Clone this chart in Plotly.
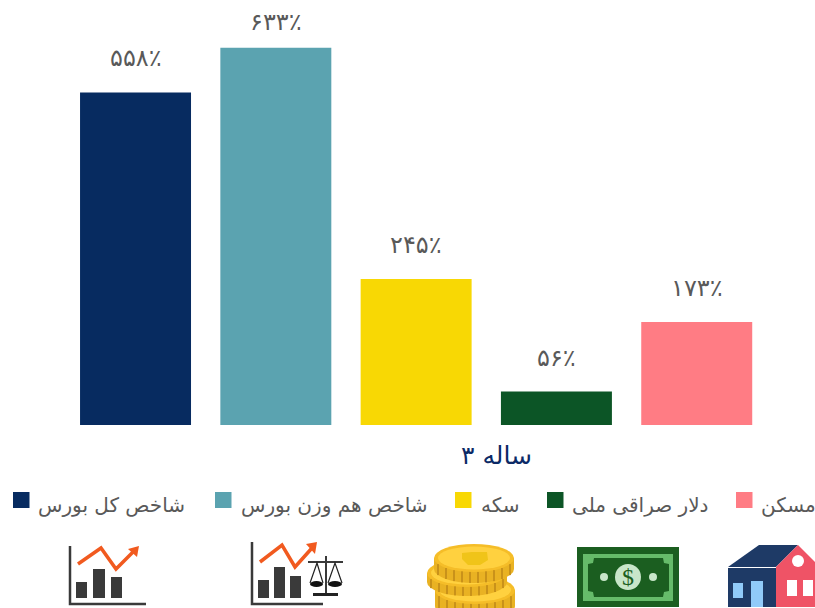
import math
import plotly.graph_objects as go

categories = ["شاخص کل بورس", "شاخص هم وزن بورس", "سکه", "دلار صراقی ملی", "مسکن"]
values = [558, 633, 245, 56, 173]
labels = ["۵۵۸٪", "۶۳۳٪", "۲۴۵٪", "۵۶٪", "۱۷۳٪"]
colors = ["#072B60", "#5BA3B0", "#F8D804", "#0C5526", "#FF7C84"]
tick_label = "۳ ساله"

W, H = 815, 608
BASE = 425          # pixel y of the baseline
SCALE = 0.596       # px per percent
FONT = "DejaVu Sans"
GRAY = "#595959"
LEGEND_SWATCH_X = [13, 215, 455, 547, 736]
LEGEND_TEXT_X = [37, 240, 480, 571, 760]

def px(x):
    return x / W
def py(y):
    return (BASE - y) / BASE

def poly(points, color):
    d = "M" + " L".join(f"{px(a):.5f},{py(b):.5f}" for a, b in points) + " Z"
    return dict(type="path", path=d, xref="paper", yref="paper", fillcolor=color,
                line=dict(width=0), layer="above")

def line(points, color, width):
    d = "M" + " L".join(f"{px(a):.5f},{py(b):.5f}" for a, b in points)
    return dict(type="path", path=d, xref="paper", yref="paper", fillcolor="rgba(0,0,0,0)",
                line=dict(color=color, width=width), layer="above")

def rect(x0, y0, x1, y1, color):
    return dict(type="rect", xref="paper", yref="paper", x0=px(x0), x1=px(x1), y0=py(y0), y1=py(y1),
                fillcolor=color, line=dict(width=0), layer="above")

def oval(cx, cy, rx, ry, color):
    return dict(type="circle", xref="paper", yref="paper", x0=px(cx - rx), x1=px(cx + rx),
                y0=py(cy + ry), y1=py(cy - ry), fillcolor=color, line=dict(width=0), layer="above")

DARK = "#3A3A3A"
ORANGE = "#F15A1F"
shapes = []

# legend swatches
for a, col in zip(LEGEND_SWATCH_X, colors):
    shapes.append(rect(a, 492, a + 16.5, 508, col))

# chart icon 1
shapes += [line([(70, 546), (70, 604), (146, 604)], DARK, 2.5)]
shapes += [rect(76, 582, 87, 598, DARK), rect(93, 569, 105, 598, DARK), rect(111, 577, 122, 598, DARK)]
shapes += [line([(78, 564), (101, 548), (116, 569), (133, 552)], ORANGE, 3.5),
           poly([(128, 549), (139, 546), (137, 557)], ORANGE)]

# chart + scale icon
shapes += [line([(252, 542), (252, 604), (323, 604)], DARK, 2.5)]
shapes += [rect(258, 580, 269, 598, DARK), rect(274, 567, 285, 598, DARK), rect(290, 576, 301, 598, DARK)]
shapes += [line([(260, 562), (282, 545), (295, 567), (312, 548)], ORANGE, 3.5),
           poly([(306, 544), (317, 542), (315, 554)], ORANGE)]
shapes += [line([(326, 556), (326, 593)], DARK, 2), line([(308, 562), (343, 562)], DARK, 2),
           rect(313, 593, 338, 596, "#222222"),
           line([(310, 583), (317, 563), (323, 583)], "#222222", 1.2),
           line([(328, 583), (335, 563), (342, 583)], "#222222", 1.2),
           oval(316.5, 584, 6.5, 3, "#111111"), oval(335, 584, 7, 3, "#111111")]

# coins
RIM = "#E9B223"
STRIPE = "#C9921A"
TOP = "#FFD13F"
for cx, cy, depth in [(475, 590, 16), (467, 573, 9), (474, 558, 11)]:
    shapes += [oval(cx, cy + depth, 40, 14, RIM), rect(cx - 40, cy, cx + 40, cy + depth, RIM),
               oval(cx, cy, 40, 14, "#F5BD28")]
    for dx in range(-36, 37, 8):
        yy = cy + 14 * math.sqrt(1 - (dx / 40) ** 2)
        shapes.append(line([(cx + dx, yy), (cx + dx, yy + depth)], STRIPE, 2))
    shapes.append(oval(cx, cy, 36, 11.5, TOP))
shapes += [poly([(462, 553), (472, 552), (487, 552), (488, 560), (480, 565), (468, 565), (462, 559)], "#F0C419")]

# banknote
shapes += [rect(577, 547, 679, 607, "#1B5E20"), rect(583, 554, 673, 601, "#66BB6A"),
           poly([(594, 558), (663, 558), (664, 563), (669, 564), (669, 591), (664, 592), (663, 597),
                 (594, 597), (593, 592), (588, 591), (588, 564), (593, 563)], "#1B5E20"),
           oval(628, 577, 13, 13, "#C8E6C9"), oval(604, 577, 4, 4, "#C8E6C9"), oval(653, 577, 4, 4, "#C8E6C9")]

# house
NAVY = "#1E3A66"
RED = "#EF5366"
shapes += [rect(728, 568, 776, 607, NAVY),
           poly([(728, 567), (759, 545), (798, 545), (776, 567)], NAVY),
           poly([(776, 567), (798, 545), (815, 562), (815, 607), (776, 607)], RED),
           oval(798, 561, 6, 6, "#FFFFFF"), rect(787, 580, 797, 596, "#FFFFFF"), rect(803, 580, 813, 596, "#FFFFFF"),
           rect(751, 581, 763, 607, "#90CAF9"), rect(733, 583, 743, 598, "#90CAF9")]

fig = go.Figure()
annotations = []
for i, (name, val, lab, col, tx) in enumerate(zip(categories, values, labels, colors, LEGEND_TEXT_X)):
    fig.add_trace(go.Bar(x=[i], y=[val], name=name, marker_color=col, marker_line_width=0, width=0.791,
                         showlegend=False))
    top_px = BASE - val * SCALE
    annotations.append(dict(x=i, y=val, xref="x", yref="y", text=lab, showarrow=False, yanchor="middle",
                            xanchor="center", yshift=min(34, top_px - 22),
                            font=dict(family=FONT, size=24, color=GRAY)))
    annotations.append(dict(xref="paper", yref="paper", x=px(tx), y=py(505), text=name, showarrow=False,
                            xanchor="left", yanchor="middle", borderpad=0,
                            font=dict(family=FONT, size=20, color=GRAY)))

annotations.append(dict(xref="paper", yref="paper", x=px(496), y=py(455), text=tick_label, showarrow=False,
                        xanchor="center", yanchor="middle", font=dict(family=FONT, size=25, color="#0B2A66")))
annotations.append(dict(xref="paper", yref="paper", x=px(628), y=py(577), text="$", showarrow=False,
                        xanchor="center", yanchor="middle", font=dict(family="Liberation Serif", size=24, color="#1B5E20")))

fig.update_layout(
    width=W, height=H, margin=dict(l=0, r=0, t=0, b=H - BASE, pad=0),
    paper_bgcolor="white", plot_bgcolor="white", barmode="overlay",
    xaxis=dict(range=[-0.966, 4.843], visible=False, fixedrange=True),
    yaxis=dict(range=[0, BASE / SCALE], visible=False, fixedrange=True),
    shapes=shapes, annotations=annotations, showlegend=False,
)
fig.write_html("out.html", config=dict(displayModeBar=False),
               post_script="document.body.style.margin='0';document.documentElement.style.overflow='hidden';")
